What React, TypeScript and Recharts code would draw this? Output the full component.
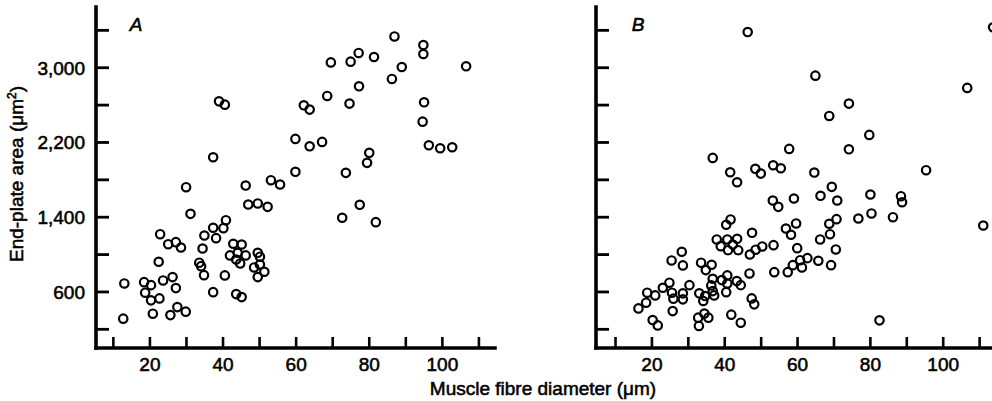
import React from "react";
import { ScatterChart, Scatter, XAxis, YAxis } from "recharts";

// Panel A: muscle fibre diameter (µm) and end-plate area (µm²)
const diameterA = [
  13.0, 12.7, 18.4, 20.3, 18.7, 20.3, 20.8, 22.6, 22.4, 22.8, 23.6, 25.0, 25.6, 26.2, 27.1, 27.1, 27.5, 28.5, 29.8, 29.9,
  31.1, 33.5, 34.0, 34.4, 34.8, 34.9, 37.3, 37.3, 38.1, 37.3, 38.9, 40.5, 40.1, 40.8, 40.5, 41.9, 42.8, 43.6, 44.0, 45.1,
  44.7, 46.2, 43.6, 45.1, 46.2, 46.9, 49.5, 52.2, 48.5, 49.5, 50.1, 50.1, 49.5, 51.3, 53.1, 55.6, 59.8, 59.8, 62.1, 63.7,
  63.7, 67.1, 68.5, 69.5, 73.6, 72.6, 74.6, 74.9, 77.1, 77.2, 77.4, 79.4, 80.0, 81.3, 81.8, 86.2, 86.9, 88.9, 94.8, 94.8,
  95.0, 94.6, 96.3, 99.4, 102.7, 106.5,
];
const areaA = [
  691, 314, 705, 673, 592, 510, 367, 531, 923, 1218, 723, 1111, 352, 759, 1133, 641, 438, 1076, 389, 1721,
  1436, 913, 876, 1065, 780, 1204, 598, 1287, 1176, 2042, 2640, 2605, 1283, 1368, 777, 991, 1116, 948, 1019, 1108,
  905, 991, 577, 545, 1739, 1536, 1547, 1511, 862, 1019, 977, 894, 759, 816, 1796, 1750, 2238, 1886, 2598, 2552,
  2159, 2206, 2698, 3057, 1875, 1394, 2616, 3065, 3158, 2801, 1533, 1982, 2089, 3115, 1347, 2880, 3335, 3008, 3243, 3147,
  2630, 2423, 2170, 2138, 2149, 3015,
];

// Panel B
const diameterB = [
  46.3, 64.9, 106.6, 113.7, 74.1, 68.7, 79.7, 57.7, 74.1, 36.7, 41.5, 43.4, 48.4, 49.9, 53.3, 55.4, 64.6, 95.3, 69.4, 59.0,
  66.3, 70.9, 80.0, 88.4, 88.7, 53.2, 54.7, 111.0, 80.3, 86.2, 76.7, 70.7, 68.7, 68.9, 56.8, 59.6, 58.2, 40.4, 41.6, 47.5,
  37.8, 38.9, 40.7, 40.9, 42.2, 43.4, 43.7, 46.9, 48.5, 50.3, 53.4, 59.9, 66.2, 70.5, 28.2, 25.4, 28.5, 33.5, 36.4, 34.8,
  46.8, 53.6, 57.3, 58.7, 61.2, 60.7, 62.7, 65.7, 69.2, 16.3, 18.4, 18.7, 20.9, 23.0, 24.8, 25.5, 25.9, 25.7, 28.5, 28.5,
  30.3, 20.2, 21.6, 33.0, 34.1, 34.6, 36.7, 36.3, 36.7, 37.1, 32.7, 32.9, 34.4, 35.5, 39.2, 40.7, 40.7, 43.3, 44.4, 40.4,
  41.8, 44.4, 47.4, 48.1, 82.5,
];
const areaB = [
  3382, 2915, 2784, 3432, 2616, 2484, 2281, 2131, 2127, 2035, 1881, 1774, 1918, 1867, 1956, 1924, 1878, 1903, 1725, 1600,
  1629, 1579, 1643, 1625, 1560, 1579, 1511, 1311, 1440, 1400, 1386, 1379, 1330, 1218, 1279, 1333, 1212, 1319, 1376, 1233,
  1162, 1090, 1162, 1047, 1108, 1169, 1047, 1001, 1052, 1087, 1101, 1069, 1162, 1055, 1030, 937, 884, 913, 891, 834,
  798, 812, 812, 887, 862, 940, 962, 934, 887, 424, 485, 592, 563, 645, 699, 592, 528, 395, 585, 521,
  673, 299, 242, 585, 503, 556, 741, 670, 609, 563, 325, 236, 369, 325, 727, 777, 691, 716, 673, 598,
  357, 271, 531, 467, 296,
];

const xTicks = [10, 20, 30, 40, 50, 60, 70, 80, 90, 100, 110];
const xTickLabels = [20, 40, 60, 80, 100];
const yTicks = [200, 600, 1000, 1400, 1800, 2200, 2600, 3000, 3400];
const yTickLabels = [600, 1400, 2200, 3000];

const panelLabels = ["A", "B"];
const xTitle = "Muscle fibre diameter (\u03bcm)";
const yTitleMain = "End-plate area (\u03bcm";
const yTitleSup = "2";
const yTitleEnd = ")";

const zip = (xs: number[], ys: number[]) => xs.map((x, i) => ({ x, y: ys[i] }));
const dataA = zip(diameterA, areaA);
const dataB = zip(diameterB, areaB);

const FONT = "'Liberation Sans', Arial, Helvetica, sans-serif";
const TEXT_STROKE = 0.55;

const Ring = (props: any) => {
  const { cx, cy } = props;
  if (cx == null || cy == null) return <g />;
  return <circle cx={cx} cy={cy} r={4.2} fill="none" stroke="#000" strokeWidth={2.2} />;
};

const makeXTick = () => (props: any) => {
  const { x, y, payload } = props;
  const v = payload.value;
  return (
    <g>
      <line x1={x} y1={y} x2={x} y2={y - 11} stroke="#000" strokeWidth={2.6} />
      {xTickLabels.includes(v) && (
        <text x={x} y={y + 23} textAnchor="middle" fontSize={19} fontFamily={FONT} fill="#000" stroke="#000" strokeWidth={TEXT_STROKE}>
          {v}
        </text>
      )}
    </g>
  );
};

const makeYTick = (showLabels: boolean) => (props: any) => {
  const { x, y, payload } = props;
  const v = payload.value;
  return (
    <g>
      <line x1={x} y1={y} x2={x + 13} y2={y} stroke="#000" strokeWidth={2.8} />
      {showLabels && yTickLabels.includes(v) && (
        <text x={x - 11} y={y + 7} textAnchor="end" fontSize={19} fontFamily={FONT} fill="#000" stroke="#000" strokeWidth={TEXT_STROKE}>
          {v.toLocaleString("en-US")}
        </text>
      )}
    </g>
  );
};

const axisLineStyle = { stroke: "#000", strokeWidth: 3.6, strokeLinecap: "square" as const };

function Panel(props: { data: { x: number; y: number }[]; xDomain: [number, number]; width: number; right: number; showYLabels: boolean }) {
  const { data, xDomain, width, right, showYLabels } = props;
  return (
    <ScatterChart width={width} height={401} margin={{ top: 7, right, bottom: 13, left: 0 }}>
      <XAxis
        type="number"
        dataKey="x"
        domain={xDomain}
        allowDataOverflow
        ticks={xTicks}
        interval={0}
        height={40}
        tickSize={0}
        tickMargin={0}
        tickLine={false}
        axisLine={axisLineStyle}
        tick={makeXTick()}
      />
      <YAxis
        type="number"
        dataKey="y"
        domain={[0, 3650]}
        allowDataOverflow
        ticks={yTicks}
        interval={0}
        width={96}
        tickSize={0}
        tickMargin={0}
        tickLine={false}
        axisLine={axisLineStyle}
        tick={makeYTick(showYLabels)}
      />
      <Scatter data={data} shape={Ring} isAnimationActive={false} />
    </ScatterChart>
  );
}

export default function App() {
  return (
    <div style={{ position: "absolute", left: 0, top: 0, width: 992, height: 401, overflow: "hidden", background: "#fff" }}>
      <div style={{ position: "absolute", left: 0, top: 0 }}>
        <Panel data={dataA} xDomain={[5.25, 114.4]} width={520} right={25} showYLabels />
      </div>
      <div style={{ position: "absolute", left: 500, top: 0 }}>
        <Panel data={dataB} xDomain={[4.64, 113.4]} width={492} right={0} showYLabels={false} />
      </div>
      <svg width={992} height={401} style={{ position: "absolute", left: 0, top: 0, pointerEvents: "none" }}>
        <text
          transform="translate(23,174) rotate(-90)"
          textAnchor="middle"
          fontSize={19}
          fontFamily={FONT}
          fill="#000"
          stroke="#000"
          strokeWidth={TEXT_STROKE}
        >
          {yTitleMain}
          <tspan fontSize={12} dy={-7}>{yTitleSup}</tspan>
          <tspan dy={7}>{yTitleEnd}</tspan>
        </text>
        <text x={543} y={395} textAnchor="middle" fontSize={19} fontFamily={FONT} fill="#000" stroke="#000" strokeWidth={TEXT_STROKE}>
          {xTitle}
        </text>
        <text x={136} y={31} textAnchor="middle" fontSize={19} fontStyle="italic" fontFamily={FONT} fill="#000" stroke="#000" strokeWidth={TEXT_STROKE}>
          {panelLabels[0]}
        </text>
        <text x={638} y={31} textAnchor="middle" fontSize={19} fontStyle="italic" fontFamily={FONT} fill="#000" stroke="#000" strokeWidth={TEXT_STROKE}>
          {panelLabels[1]}
        </text>
      </svg>
    </div>
  );
}
